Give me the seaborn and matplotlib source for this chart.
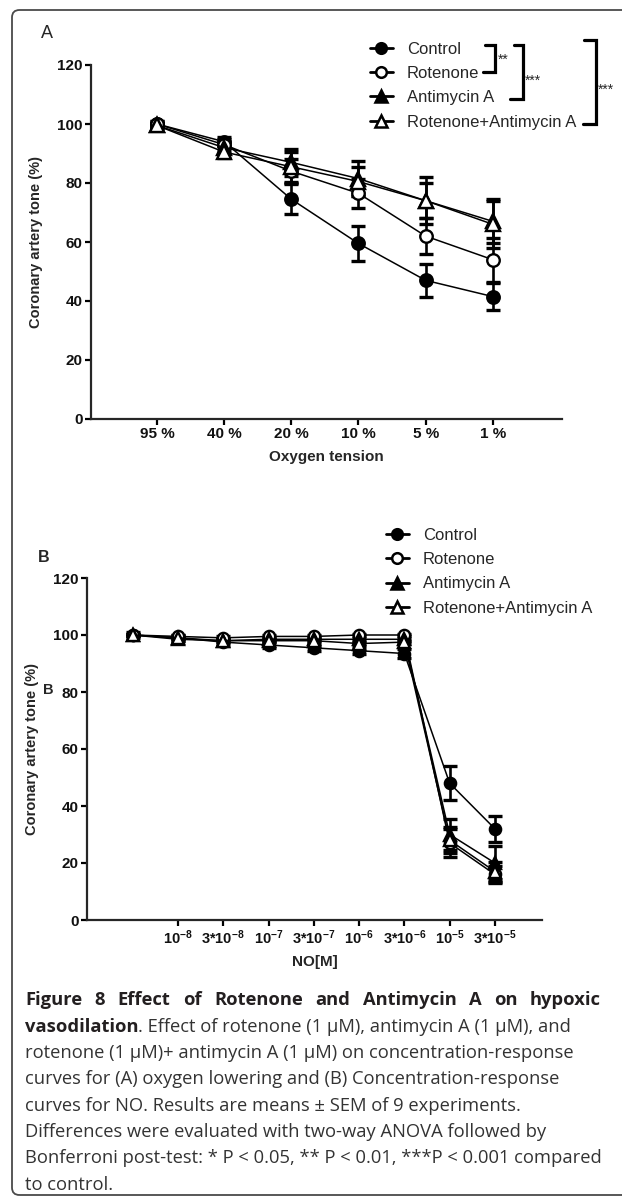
import numpy as np
import pandas as pd
import matplotlib
matplotlib.use("Agg")
import matplotlib.pyplot as plt
import seaborn as sns
from matplotlib.lines import Line2D
from matplotlib.patches import FancyBboxPatch

# ---------------- data ----------------
series_names = ["Control", "Rotenone", "Antimycin A", "Rotenone+Antimycin A"]

oxygen_labels = ["95 %", "40 %", "20 %", "10 %", "5 %", "1 %"]
control_A = [100, 94, 74.5, 59.5, 47, 41.5]
control_A_sem = [1, 1.5, 5, 6, 5.5, 4.7]
rotenone_A = [100, 93, 84, 76.5, 62, 54]
rotenone_A_sem = [1, 2, 4, 5, 6, 7.5]
antimycin_A = [99.5, 92, 87, 81.5, 74, 67]
antimycin_A_sem = [1, 2, 4.5, 6, 8, 7.5]
rot_anti_A = [99.5, 90.5, 85.5, 80.5, 74, 66]
rot_anti_A_sem = [1, 2, 5, 5, 6, 8]

no_labels = ["", r"$10^{-8}$", r"3*$10^{-8}$", r"$10^{-7}$", r"3*$10^{-7}$",
             r"$10^{-6}$", r"3*$10^{-6}$", r"$10^{-5}$", r"3*$10^{-5}$"]
control_B = [100, 99, 97.5, 96.5, 95.5, 94.5, 93.5, 48, 32]
control_B_sem = [1, 1, 1, 1, 1, 1, 1.5, 6, 4.5]
rotenone_B = [100, 99.5, 99, 99.5, 99.5, 100, 100, 27, 16]
rotenone_B_sem = [0.5, 0.5, 0.5, 0.5, 0.5, 0.5, 0.5, 5, 3]
antimycin_B = [100, 98.5, 98, 98.5, 98.5, 98.5, 98.5, 30, 20]
antimycin_B_sem = [0.5, 0.5, 0.5, 0.5, 0.5, 0.5, 0.5, 5.5, 6]
rot_anti_B = [100, 99, 98, 98, 98, 97, 97.5, 28, 17]
rot_anti_B_sem = [0.5, 0.5, 0.5, 0.5, 0.5, 0.5, 0.5, 4.5, 3.5]

caption_title = "Figure 8 Effect of Rotenone and Antimycin A on hypoxic"
caption_bold = "vasodilation"
caption_line2 = ". Effect of rotenone (1 μM), antimycin A (1 μM), and"
caption_body = [
    "rotenone (1 μM)+ antimycin A (1 μM) on concentration-response",
    "curves for (A) oxygen lowering and (B) Concentration-response",
    "curves for NO. Results are means ± SEM of 9 experiments.",
    "Differences were evaluated with two-way ANOVA followed by",
    "Bonferroni post-test: * P < 0.05, ** P < 0.01, ***P < 0.001 compared",
    "to control.",
]

# ---------------- style ----------------
sns.set_theme(style="ticks")
plt.rcParams["font.family"] = ["Liberation Sans", "DejaVu Sans"]
plt.rcParams["mathtext.fontset"] = "custom"
plt.rcParams["mathtext.rm"] = "Liberation Sans:bold"
plt.rcParams["mathtext.it"] = "Liberation Sans:bold"
plt.rcParams["mathtext.bf"] = "Liberation Sans:bold"
plt.rcParams["mathtext.default"] = "rm"

W, H = 622, 1204
fig = plt.figure(figsize=(W / 100, H / 100), dpi=100)


def fx(x):
    return x / W


def fy(y):
    return 1 - y / H


def add_axes_px(left, top, right, bottom):
    return fig.add_axes([fx(left), fy(bottom), (right - left) / W, (bottom - top) / H])


styles = {
    "Control": dict(marker="o", mfc="black", ms=9),
    "Rotenone": dict(marker="o", mfc="white", ms=9),
    "Antimycin A": dict(marker="^", mfc="black", ms=10),
    "Rotenone+Antimycin A": dict(marker="^", mfc="white", ms=10),
}


def long_frame(values, sems, n):
    rows = []
    for name, v, s in zip(series_names, values, sems):
        for i in range(n):
            rows.append(dict(series=name, x=i, y=v[i], err=s[i]))
    return pd.DataFrame(rows)


def draw_panel(ax, df, ms_scale=1.0):
    for name in series_names:
        d = df[df["series"] == name]
        ax.errorbar(d["x"], d["y"], yerr=d["err"], fmt="none", ecolor="black",
                    elinewidth=1.9, capsize=5.2, capthick=2.4, zorder=2)
    for name in series_names:
        d = df[df["series"] == name]
        st = styles[name]
        sns.lineplot(data=d, x="x", y="y", ax=ax, color="black", lw=1.1,
                     marker=st["marker"], markersize=st["ms"] * ms_scale,
                     markerfacecolor=st["mfc"], markeredgecolor="black",
                     markeredgewidth=1.7, zorder=3, legend=False)


def style_axes(ax, ylab, xlab, fs_tick=11):
    sns.despine(ax=ax)
    ax.spines["left"].set_linewidth(1.6)
    ax.spines["bottom"].set_linewidth(1.6)
    ax.tick_params(axis="both", length=4, width=1.6, color="black",
                   labelsize=fs_tick, pad=2, labelcolor="#111111")
    for lab in ax.get_yticklabels() + ax.get_xticklabels():
        lab.set_fontweight("bold")
    ax.set_ylim(0, 120)
    ax.set_yticks([0, 20, 40, 60, 80, 100, 120])
    ax.set_ylabel(ylab, fontsize=10.5, fontweight="bold", labelpad=10)
    ax.set_xlabel(xlab, fontsize=11, fontweight="bold", labelpad=6)
    ax.set_facecolor("white")


# ---------------- Panel A ----------------
axA = add_axes_px(91, 65, 562, 419)
dfA = long_frame([control_A, rotenone_A, antimycin_A, rot_anti_A],
                 [control_A_sem, rotenone_A_sem, antimycin_A_sem, rot_anti_A_sem], 6)
draw_panel(axA, dfA)
axA.set_xticks(range(6))
axA.set_xticklabels(oxygen_labels)
axA.set_xlim(-0.982, 6.03)
style_axes(axA, "Coronary artery tone (%)", "Oxygen tension")

# ---------------- Panel B ----------------
axB = add_axes_px(87, 578, 542, 920)
dfB = long_frame([control_B, rotenone_B, antimycin_B, rot_anti_B],
                 [control_B_sem, rotenone_B_sem, antimycin_B_sem, rot_anti_B_sem], 9)
draw_panel(axB, dfB, ms_scale=0.9)
axB.set_xticks(range(1, 9))
axB.set_xticklabels(no_labels[1:])
axB.set_xlim(-1.01, 9.04)
style_axes(axB, "Coronary artery tone (%)", "NO[M]", fs_tick=11)
for lab in axB.get_xticklabels():
    lab.set_fontsize(10.5)

# ---------------- legends ----------------
handles = [Line2D([], [], color="black", lw=2.0, marker=styles[n]["marker"],
                  markersize=styles[n]["ms"] * 0.85, markerfacecolor=styles[n]["mfc"],
                  markeredgecolor="black", markeredgewidth=1.8) for n in series_names]
leg_kw = dict(loc="upper left", frameon=False, borderpad=0, borderaxespad=0, fontsize=12,
              labelspacing=0.55, handlelength=1.35, handletextpad=0.85)
fig.legend(handles, series_names, bbox_to_anchor=(fx(370), fy(42)), **leg_kw)
fig.legend(handles, series_names, bbox_to_anchor=(fx(386), fy(528)), **leg_kw)


# significance brackets (pixel coordinates of the figure)
def bracket(x, y0, y1, x_top, x_bot):
    pts_x = [x_top, x, x, x_bot]
    pts_y = [y0, y0, y1, y1]
    fig.add_artist(Line2D([fx(p) for p in pts_x], [fy(p) for p in pts_y],
                          color="black", lw=2.3, solid_joinstyle="miter"))


bracket(495, 45, 72, 485, 483)
fig.text(fx(498), fy(60), "**", fontsize=10, va="center", ha="left")
bracket(523, 45, 99, 514, 510)
fig.text(fx(525), fy(81), "***", fontsize=10, va="center", ha="left")
bracket(596, 40, 124, 584, 583)
fig.text(fx(598), fy(90), "***", fontsize=10, va="center", ha="left")

# panel letters
fig.text(fx(41), fy(33), "A", fontsize=13, va="center", ha="left")
fig.text(fx(38), fy(557), "B", fontsize=11.5, fontweight="bold", va="center", ha="left")
fig.text(fx(43), fy(690), "B", fontsize=10.5, fontweight="bold", va="center", ha="left")

# border
border = FancyBboxPatch((fx(12), fy(1195)), fx(660) - fx(12), fy(10) - fy(1195),
                        boxstyle="round,pad=0,rounding_size=0.012",
                        transform=fig.transFigure, fill=False, ec="#4a4a4a", lw=1.3,
                        mutation_aspect=W / H)
fig.add_artist(border)

# ---------------- caption ----------------
cap_font = "Open Sans"
cap_size = 13.2
x0 = 25
renderer = fig.canvas.get_renderer()


def text_width(s, weight="normal"):
    t = fig.text(0, 0, s, fontsize=cap_size, family=cap_font, fontweight=weight)
    w = t.get_window_extent(renderer=renderer).width
    t.remove()
    return w


# justified bold title line
title_words = caption_title.split()
x_right = 601
widths = [text_width(w, "bold") for w in title_words]
gap = (x_right - x0 - sum(widths)) / (len(title_words) - 1)
xc = x0
for w, wd in zip(title_words, widths):
    fig.text(fx(xc), fy(1000), w, fontsize=cap_size, family=cap_font,
             fontweight="bold", color="#231f20", va="center", ha="left")
    xc += wd + gap

# second line: bold then regular
fig.text(fx(x0), fy(1027), caption_bold, fontsize=cap_size, family=cap_font,
         fontweight="bold", color="#231f20", va="center", ha="left")
bw = text_width(caption_bold, "bold")
fig.text(fx(x0 + bw), fy(1027), caption_line2,
         fontsize=cap_size, family=cap_font, color="#333333", va="center", ha="left")

for i, line in enumerate(caption_body):
    fig.text(fx(x0), fy(1053 + 26.3 * i), line, fontsize=cap_size, family=cap_font,
             color="#333333", va="center", ha="left")

fig.savefig("out.png", dpi=100, facecolor="white")
